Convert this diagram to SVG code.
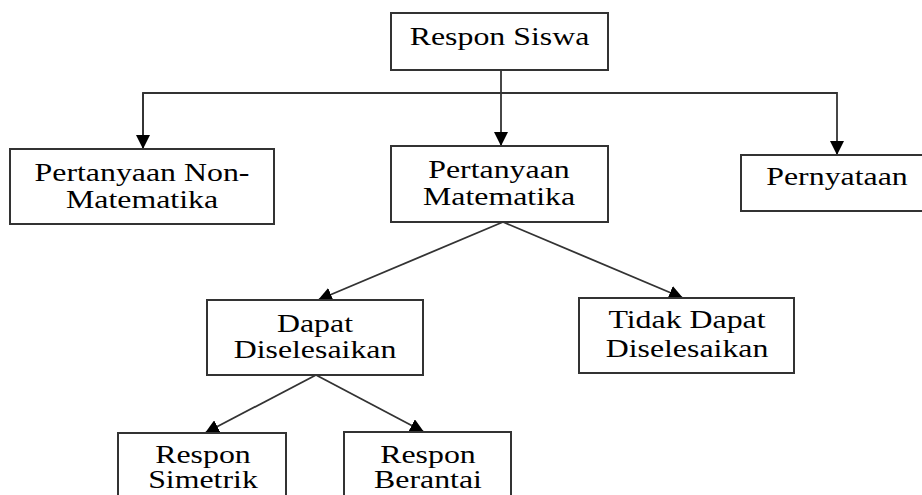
<svg xmlns="http://www.w3.org/2000/svg" width="922" height="495" viewBox="0 0 922 495">
<style>
.box{fill:#fff;stroke:#333;stroke-width:2}
.t{font-family:"Liberation Serif","Times New Roman",serif;font-size:24.5px;fill:#000;text-anchor:middle}
.c{fill:none;stroke:#333;stroke-width:1.8}
</style>
<defs>
<marker id="ah" viewBox="0 0 14 14" refX="14" refY="7" markerWidth="14" markerHeight="14" markerUnits="userSpaceOnUse" orient="auto">
<path d="M0,0 L14,7 L0,14 Z" fill="#000"/>
</marker>
</defs>
<rect width="922" height="495" fill="#fff"/>
<g id="connectors">
<line class="c" x1="501" y1="70" x2="501" y2="146" marker-end="url(#ah)"/>
<polyline class="c" points="143,149 143,93 837,93 837,155" marker-end="url(#ah)"/>
<line class="c" x1="143" y1="93" x2="143" y2="149" marker-end="url(#ah)"/>
<line class="c" x1="503" y1="222" x2="318" y2="300" marker-end="url(#ah)"/>
<line class="c" x1="503" y1="222" x2="683" y2="298" marker-end="url(#ah)"/>
<line class="c" x1="316" y1="375" x2="205" y2="433" marker-end="url(#ah)"/>
<line class="c" x1="316" y1="375" x2="424" y2="432" marker-end="url(#ah)"/>
</g>
<g id="respon-siswa">
<rect class="box" x="391" y="13" width="217" height="57"/>
<g transform="translate(499.5,0) scale(1.3,1)"><text class="t" x="0" y="45">Respon Siswa</text></g>
</g>
<g id="pertanyaan-non-matematika">
<rect class="box" x="10" y="149" width="264" height="75"/>
<g transform="translate(142,0) scale(1.3,1)"><text class="t" x="0" y="181">Pertanyaan Non-</text><text class="t" x="0" y="208">Matematika</text></g>
</g>
<g id="pertanyaan-matematika">
<rect class="box" x="391" y="146" width="217" height="76"/>
<g transform="translate(499,0) scale(1.3,1)"><text class="t" x="0" y="178">Pertanyaan</text><text class="t" x="0" y="205">Matematika</text></g>
</g>
<g id="pernyataan">
<rect class="box" x="741" y="155" width="190" height="56"/>
<g transform="translate(837,0) scale(1.3,1)"><text class="t" x="0" y="185">Pernyataan</text></g>
</g>
<g id="dapat-diselesaikan">
<rect class="box" x="207" y="300" width="216" height="75"/>
<g transform="translate(315,0) scale(1.3,1)"><text class="t" x="0" y="332">Dapat</text><text class="t" x="0" y="358">Diselesaikan</text></g>
</g>
<g id="tidak-dapat-diselesaikan">
<rect class="box" x="579" y="298" width="215" height="75"/>
<g transform="translate(687,0) scale(1.3,1)"><text class="t" x="0" y="328">Tidak Dapat</text><text class="t" x="0" y="357">Diselesaikan</text></g>
</g>
<g id="respon-simetrik">
<rect class="box" x="118" y="433" width="168" height="75"/>
<g transform="translate(203,0) scale(1.3,1)"><text class="t" x="0" y="463">Respon</text><text class="t" x="0" y="488">Simetrik</text></g>
</g>
<g id="respon-berantai">
<rect class="box" x="344" y="432" width="167" height="75"/>
<g transform="translate(428,0) scale(1.3,1)"><text class="t" x="0" y="463">Respon</text><text class="t" x="0" y="488">Berantai</text></g>
</g>
</svg>
